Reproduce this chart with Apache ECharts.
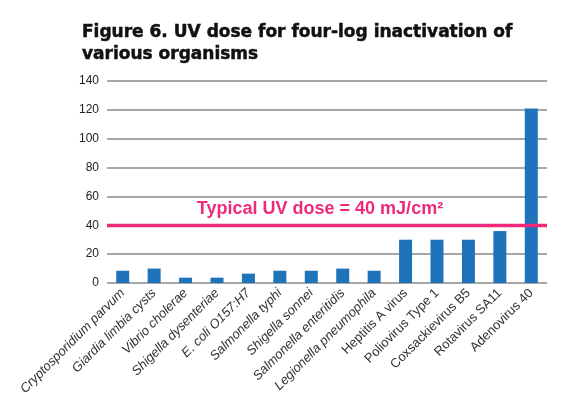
<!DOCTYPE html>
<html>
<head>
<meta charset="utf-8">
<script src="https://cdn.jsdelivr.net/npm/echarts@6/dist/echarts.min.js"></script>
<style>
  html, body { margin: 0; padding: 0; background: #fff; }
  #chart { width: 564px; height: 411px; }
</style>
</head>
<body>
<div id="chart"></div>
<script>
const organisms = [
  "Cryptosporidium parvum", "Giardia limbia cysts", "Vibrio cholerae",
  "Shigella dysenteriae", "E. coli O157:H7", "Salmonella typhi",
  "Shigella sonnei", "Salmonella enteritidis", "Legionella pneumophila",
  "Heptitis A virus", "Poliovirus Type 1", "Coxsackievirus B5",
  "Rotavirus SA11", "Adenovirus 40"
];
// names set in italics (bacteria and protozoa)
const italicNames = organisms.slice(0, 9);
const uvDose = [8.5, 10, 3.7, 3.7, 6.5, 8.5, 8.5, 10, 8.5, 30, 30, 30, 36, 121];
const typicalDose = 40;
const yTicks = [0, 20, 40, 60, 80, 100, 120, 140];

const chart = echarts.init(document.getElementById("chart"));

chart.setOption({
  animation: false,
  title: {
    text: "Figure 6. UV dose for four-log inactivation of\nvarious organisms",
    left: 77,
    top: 17,
    textStyle: {
      fontFamily: "DejaVu Sans",
      fontWeight: "bold",
      fontSize: 17,
      lineHeight: 22,
      color: "#111",
      textBorderColor: "#111",
      textBorderWidth: 0.5
    }
  },
  grid: { left: 107, right: 17, top: 81, bottom: 128 },
  xAxis: {
    type: "category",
    data: organisms,
    axisLine: { show: false },
    axisTick: { show: false },
    axisLabel: {
      interval: 0,
      rotate: 45,
      margin: 8,
      fontFamily: "Liberation Sans",
      fontSize: 13,
      color: "#333",
      formatter: (v) => italicNames.includes(v) ? `{it|${v}}` : v,
      rich: {
        it: { fontStyle: "italic", fontFamily: "Liberation Sans", fontSize: 13, color: "#333" }
      }
    }
  },
  yAxis: {
    type: "value",
    min: yTicks[0],
    max: yTicks[yTicks.length - 1],
    interval: 20,
    axisLine: { show: false },
    axisTick: { show: false },
    axisLabel: {
      margin: 8,
      fontFamily: "Liberation Sans",
      fontSize: 12,
      color: "#222"
    },
    splitLine: { lineStyle: { color: "#8a8a8a", width: 1.5 } }
  },
  series: [{
    type: "bar",
    data: uvDose,
    barWidth: 13,
    itemStyle: { color: "#1f73ba" },
    markLine: {
      symbol: "none",
      silent: true,
      data: [{ yAxis: typicalDose }],
      lineStyle: { color: "#ee2a7b", width: 3.3, type: "solid" },
      label: {
        position: "middle",
        formatter: "Typical UV dose = 40 mJ/cm²",
        offset: [-7, -2],
        fontFamily: "Liberation Sans",
        fontWeight: "bold",
        fontSize: 18,
        color: "#ee2a7b"
      }
    }
  }]
});
</script>
</body>
</html>
